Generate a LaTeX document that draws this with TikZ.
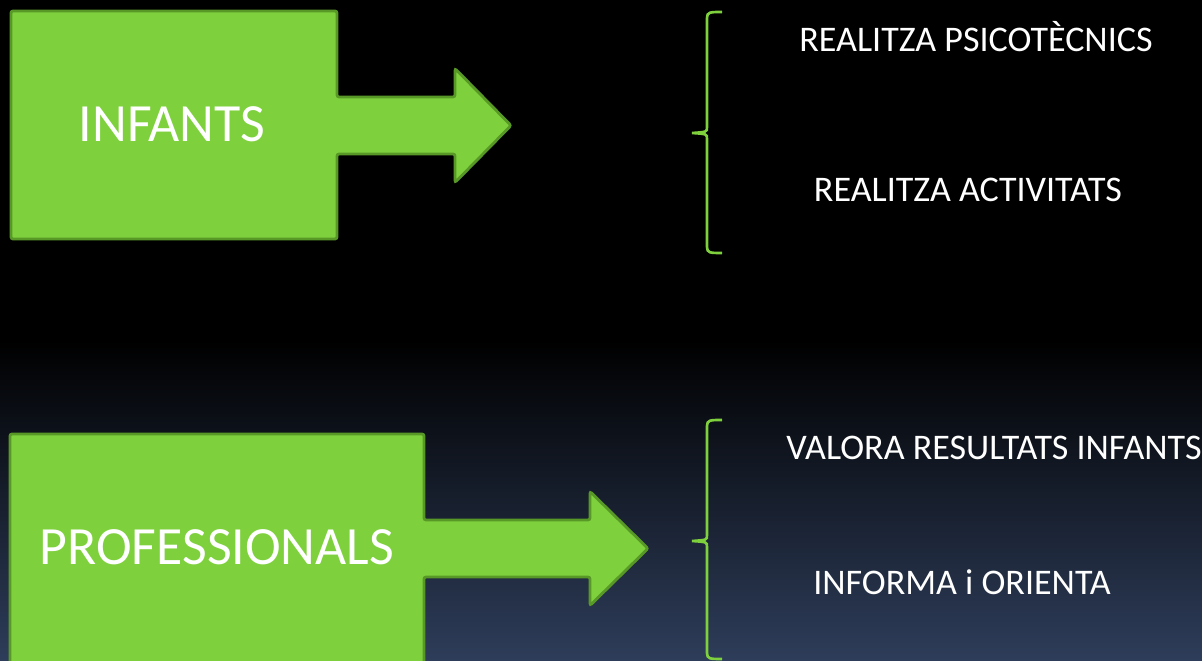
\documentclass[tikz,border=0pt]{standalone}
\usepackage{fontspec}
\setmainfont{Carlito}
\usetikzlibrary{calc}
\definecolor{arrowgreen}{RGB}{126,209,60}
\definecolor{arrowedge}{RGB}{88,152,38}
\definecolor{bgblue}{RGB}{46,61,90}
\tikzset{
  arrowbox/.style={fill=arrowgreen, draw=arrowedge, line width=0.8pt, rounded corners=0.6pt},
  bracestyle/.style={draw=arrowgreen, line width=0.75pt},
  bigtext/.style={text=white, font=\fontsize{15.3}{17}\selectfont, inner sep=0pt, anchor=base},
  itemtext/.style={text=white, font=\fontsize{10.25}{12}\selectfont, inner sep=0pt, anchor=base}
}
% block with arrow: (left,top,boxright,bottom,shafttop,shaftbottom,headbase,tip)
\def\blockarrow(#1,#2,#3,#4,#5,#6,#7,#8){
  \draw[arrowbox] (#1,#2) -- (#3,#2) -- (#3,#5) -- (#7,#5) -- (#7,{#5-(#6-#5)/2})
    -- (#8,{(#5+#6)/2}) -- (#7,{#6+(#6-#5)/2}) -- (#7,#6) -- (#3,#6) -- (#3,#4)
    -- (#1,#4) -- cycle;
}
% brace: (x,top,middle,bottom)
\def\greenbrace(#1,#2,#3,#4){
  \draw[bracestyle] (#1+15,#2) .. controls (#1+3,#2) and (#1,#2) .. (#1,#2+6)
    -- (#1,#3-6) .. controls (#1,#3-1) .. (#1-15,#3)
    .. controls (#1,#3+1) .. (#1,#3+6) -- (#1,#4-6)
    .. controls (#1,#4) and (#1+3,#4) .. (#1+15,#4);
}
\begin{document}
\begin{tikzpicture}[x=0.01cm, y=-0.01cm]
\useasboundingbox (0,0) rectangle (1202,661);
\fill[black] (0,0) rectangle (1202,661);
\shade[top color=black, bottom color=bgblue] (0,340) rectangle (1202,661);
\blockarrow(11,11,337,239,97,154,455,511)
\node[bigtext] (infants) at (172,142) {INFANTS};
\greenbrace(707,12,133,253)
\node[itemtext] (psico) at (976,52) {REALITZA PSICOTÈCNICS};
\node[itemtext] (activ) at (968,202) {REALITZA ACTIVITATS};
\blockarrow(10,434,424,664,520,577,590,648)
\node[bigtext] (profs) at (217,565) {PROFESSIONALS};
\greenbrace(707,420,541,659)
\node[itemtext] (valora) at (994,460) {VALORA RESULTATS INFANTS};
\node[itemtext] (informa) at (962,595) {INFORMA i ORIENTA};
\end{tikzpicture}
\end{document}
